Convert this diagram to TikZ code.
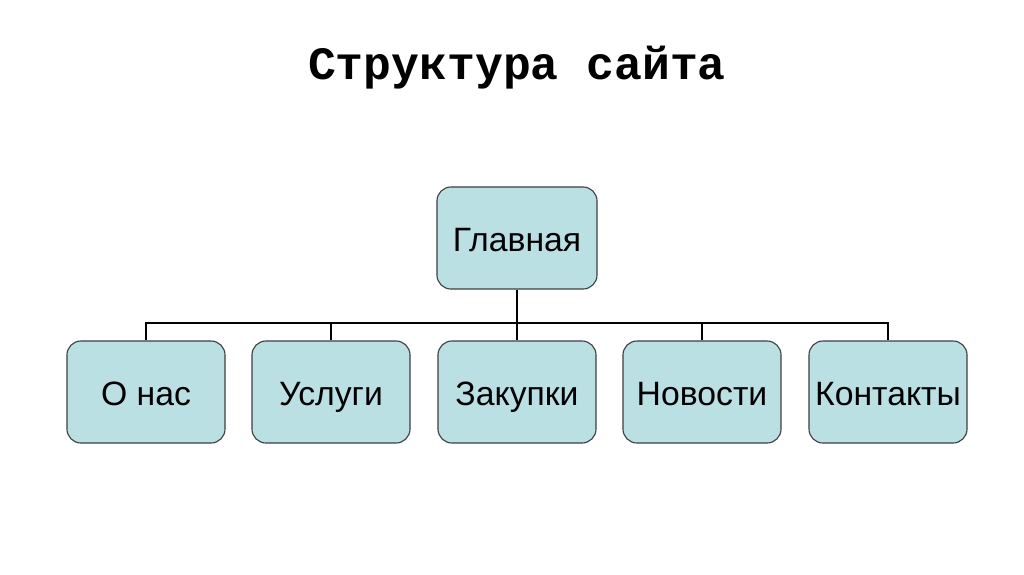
\documentclass[tikz,border=0pt]{standalone}
\usepackage{fontspec}
\setmainfont{Liberation Sans}
\newfontfamily\titlefont{Liberation Mono}

\begin{document}
\begin{tikzpicture}[x=0.025cm, y=-0.025cm]

  % ================= styles =================
  \tikzset{
    page/.style={draw, rounded corners=14*0.025cm,
      draw=black!75, line width=0.8pt, font=\fontsize{24}{28}\selectfont,
      text height=22pt, text depth=2.8pt,
      minimum width=3.95cm, minimum height=2.55cm, inner sep=0pt},
    link/.style={line width=1.7pt, black}
  }
  \definecolor{boxfill}{RGB}{187,224,227}

  % ================= canvas =================
  \useasboundingbox (0,0) rectangle (1024,574);

  % ================= title =================
  \node[font=\titlefont\bfseries\fontsize{33}{38}\selectfont] (title) at (517,68) {Структура сайта};

  % ================= pages =================
  \node[page, fill=boxfill, minimum width=4cm] (main) at (517,238) {Главная};
  \node[page, fill=boxfill] (about)    at (146,392) {О нас};
  \node[page, fill=boxfill] (services) at (331,392) {Услуги};
  \node[page, fill=boxfill] (purchase) at (517,392) {Закупки};
  \node[page, fill=boxfill] (news)     at (702,392) {Новости};
  \node[page, fill=boxfill] (contacts) at (888,392) {Контакты};

  % ================= links =================
  \coordinate (bus) at (517,323);
  \draw[link] (main.south) -- (purchase.north);
  \draw[link] (about.north) -- (about.north |- bus) -- (contacts.north |- bus) -- (contacts.north);
  \foreach \p in {services, news}
    \draw[link] (\p.north) -- (\p.north |- bus);

\end{tikzpicture}
\end{document}
